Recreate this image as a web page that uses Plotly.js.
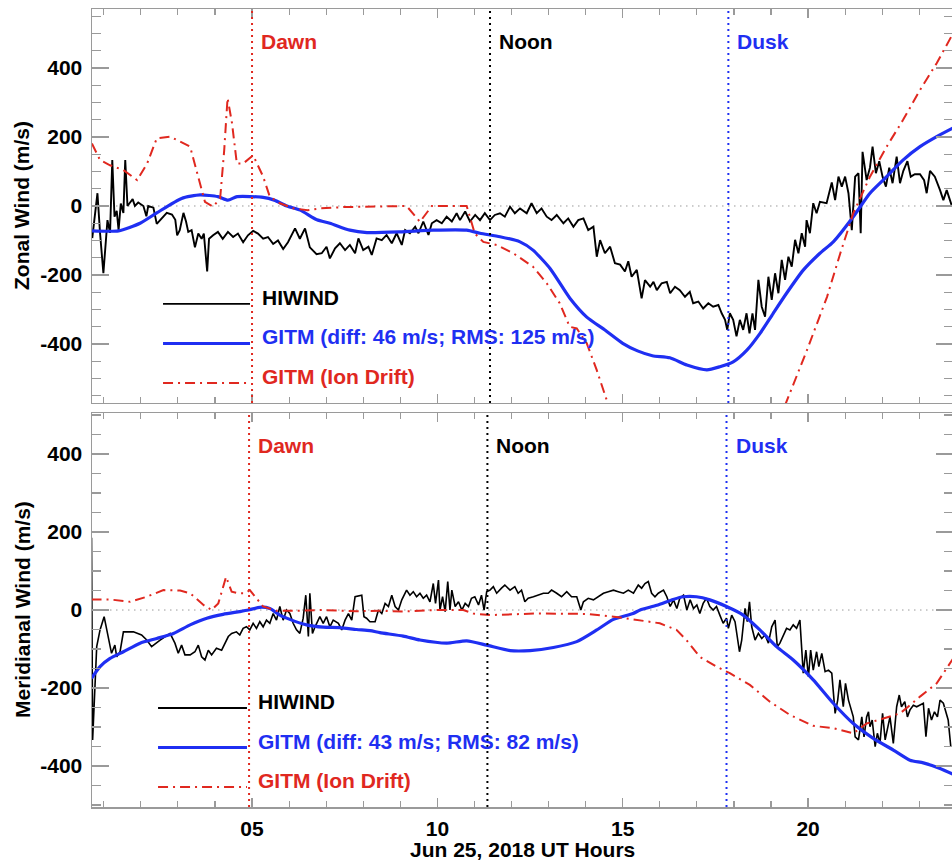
<!DOCTYPE html>
<html>
<head>
<meta charset="utf-8">
<script src="https://cdn.plot.ly/plotly-3.0.1.min.js"></script>
<style>
  html, body { margin: 0; padding: 0; background: #fff; overflow: hidden; }
  #chart { width: 954px; height: 860px; }
</style>
</head>
<body>
<div id="chart"></div>
<script>
// ---- Zonal wind (upper panel) ----
const zonalHiwindHours = [0.69,0.83,0.90,0.99,1.10,1.17,1.23,1.29,1.35,1.40,1.46,1.53,1.58,1.64,1.71,1.78,1.84,1.93,2.07,2.15,2.20,2.34,2.43,2.52,2.70,2.84,2.93,2.98,3.05,3.15,3.22,3.28,3.37,3.46,3.55,3.64,3.70,3.79,3.84,3.95,4.08,4.21,4.35,4.49,4.62,4.76,4.89,5.03,5.16,5.30,5.43,5.57,5.70,5.84,5.97,6.16,6.29,6.43,6.56,6.74,
  6.88,7.01,7.10,7.24,7.37,7.51,7.64,7.78,7.87,8.00,8.14,8.23,8.36,8.50,8.63,8.77,8.90,9.04,9.13,9.26,9.40,9.49,9.62,9.76,9.85,9.98,10.12,10.25,10.39,10.52,10.61,10.75,10.88,11.02,11.15,11.28,11.42,11.55,11.69,11.82,11.96,12.09,12.23,12.41,12.54,12.68,12.81,12.95,13.08,13.22,13.40,13.53,13.67,13.80,13.94,14.07,14.21,14.30,14.39,14.52,14.66,14.79,
  14.93,15.06,15.15,15.24,15.38,15.51,15.60,15.74,15.83,15.92,16.05,16.19,16.28,16.41,16.54,16.68,16.81,16.90,17.04,17.17,17.31,17.44,17.58,17.67,17.76,17.82,17.89,17.98,18.07,18.16,18.25,18.34,18.42,18.50,18.57,18.66,18.75,18.84,18.93,19.02,19.11,19.20,19.29,19.38,19.47,19.56,19.65,19.74,19.83,19.92,19.96,20.05,20.14,20.23,20.32,20.50,20.64,20.73,20.82,20.91,21.00,21.09,21.18,21.27,21.36,21.42,21.47,21.58,21.67,21.74,21.83,21.92,22.01,22.10,22.19,22.28,22.39,22.48,22.57,22.68,22.77,22.88,23.02,23.13,23.20,23.29,23.42,23.56,23.65,23.74,23.87];
const zonalHiwind = [-93,37,-78,-195,-41,-78,133,-31,-14,-70,7,-20,133,0,10,20,0,10,0,-30,0,-5,-52,-41,-20,-25,-40,-85,-70,-20,-45,-75,-70,-120,-80,-95,-80,-190,-95,-85,-75,-95,-75,-90,-80,-105,-85,-72,-80,-95,-90,-110,-100,-125,-105,-65,-95,-65,-120,-140,
  -137,-118,-152,-123,-108,-128,-113,-137,-94,-128,-118,-142,-94,-99,-84,-108,-79,-113,-70,-79,-60,-79,-45,-84,-50,-41,-50,-31,-45,-21,-41,-16,-45,-26,-41,-21,-41,-26,-21,-31,-2,-21,-7,-21,8,-21,-7,-31,-41,-26,-50,-36,-60,-41,-36,-70,-60,-147,-99,-137,-118,-166,
  -170,-190,-160,-205,-185,-268,-215,-234,-220,-244,-224,-220,-253,-234,-244,-263,-249,-282,-277,-297,-282,-292,-287,-311,-330,-359,-311,-330,-378,-330,-359,-311,-369,-311,-359,-214,-292,-321,-205,-272,-195,-253,-156,-214,-147,-176,-98,-137,-79,-118,-41,-79,8,-21,12,8,68,17,85,56,85,37,-70,85,95,-79,157,75,111,172,95,130,85,56,111,66,143,66,102,130,85,92,92,75,37,102,85,46,17,46,3];

const zonalGitmHours = [0.68,1.40,1.98,2.43,3.10,3.60,4.08,4.35,4.60,5.30,5.60,5.94,6.30,6.75,7.10,7.64,8.10,8.99,9.89,10.79,11.15,11.69,12.23,12.58,13.04,13.58,14.03,14.50,15.00,15.40,15.80,16.27,16.73,17.27,17.62,17.98,18.35,18.70,19.06,19.42,19.87,20.32,20.68,21.22,21.67,22.12,22.56,23.02,23.47,23.91];
const zonalGitm = [-72,-72,-50,-20,22,32,27,17,27,25,17,0,-12,-40,-50,-70,-77,-75,-70,-70,-79,-89,-104,-128,-181,-268,-322,-358,-398,-420,-434,-440,-461,-475,-466,-452,-418,-370,-311,-253,-186,-137,-104,-31,37,85,133,172,201,226];

const zonalIonHours = [0.68,0.90,1.17,1.53,1.90,2.17,2.43,2.79,3.33,3.55,3.73,3.95,4.14,4.25,4.34,4.46,4.59,4.76,5.03,5.30,5.48,5.75,6.12,6.50,6.85,7.50,8.50,9.17,9.53,9.85,10.79,11.01,11.24,11.60,12.05,12.58,12.95,13.30,13.57,13.76,14.03,14.30,14.57,14.75,19.30,19.40,19.97,20.51,20.87,21.22,21.67,22.12,22.56,23.02,23.47,23.91];
const zonalIon = [181,133,118,104,75,123,196,201,172,85,12,-2,22,162,313,240,123,123,147,85,27,8,-7,-12,-7,-3,-2,0,-46,0,0,-80,-104,-113,-137,-176,-224,-282,-350,-355,-398,-476,-563,-660,-640,-572,-418,-264,-137,-21,85,172,249,336,414,500];

// ---- Meridional wind (lower panel) ----
const meridHiwindHours = [0.67,0.70,0.81,0.90,1.01,1.12,1.21,1.30,1.35,1.44,1.53,1.80,2.02,2.16,2.29,2.52,2.79,2.92,3.01,3.10,3.19,3.33,3.46,3.55,3.64,3.73,3.82,3.91,4.04,4.18,4.27,4.36,4.45,4.58,4.67,4.76,4.85,4.94,5.03,5.12,5.21,5.30,5.39,5.48,5.57,5.66,5.75,5.84,5.93,6.02,6.11,6.20,6.29,6.38,6.45,6.52,6.56,6.63,6.70,6.83,6.92,7.01,7.10,7.19,7.33,7.42,7.51,7.60,7.69,7.78,7.96,8.02,8.09,8.18,
  8.32,8.41,8.50,8.59,8.68,8.77,8.86,8.95,9.04,9.17,9.26,9.35,9.44,9.53,9.62,9.71,9.80,9.89,9.95,10.03,10.07,10.14,10.21,10.28,10.34,10.39,10.48,10.57,10.66,10.75,10.84,10.92,11.01,11.11,11.19,11.26,11.33,11.42,11.51,11.60,11.73,11.82,11.96,12.09,12.18,12.27,12.36,12.45,12.59,12.72,12.86,12.99,13.08,13.22,13.35,13.49,13.62,13.76,13.87,13.94,14.07,14.21,14.34,14.48,14.61,14.75,14.88,15.02,15.15,15.29,15.42,15.51,15.60,15.69,15.78,15.87,15.96,
  16.10,16.19,16.28,16.37,16.46,16.54,16.64,16.73,16.82,16.91,17.00,17.08,17.17,17.26,17.35,17.44,17.53,17.62,17.71,17.80,17.85,17.94,18.03,18.15,18.21,18.30,18.36,18.42,18.48,18.57,18.66,18.75,18.84,18.93,19.02,19.11,19.17,19.24,19.33,19.42,19.51,19.60,19.69,19.78,19.87,19.94,20.01,20.07,20.14,20.23,20.29,20.37,20.46,20.55,20.64,20.73,20.80,20.86,20.95,21.01,21.09,21.18,21.22,21.27,21.36,21.45,21.51,21.58,21.63,21.67,21.73,21.81,21.87,21.94,22.01,22.08,22.15,22.21,22.30,22.39,22.46,22.52,22.61,22.68,22.75,22.84,22.93,23.02,23.11,23.18,23.25,23.33,23.41,23.49,23.56,23.65,23.72,23.78,23.85];
const meridHiwind = [185,-333,-94,-51,-17,-68,-111,-90,-120,-107,-56,-56,-64,-77,-94,-77,-60,-85,-111,-90,-115,-115,-107,-90,-120,-128,-103,-115,-98,-103,-85,-68,-60,-56,-64,-47,-43,-51,-34,-47,-30,-43,-26,-34,-9,-26,9,-26,0,-9,-34,-51,-60,-21,38,-68,43,-60,-43,-17,-34,-17,-43,-26,-34,-51,-26,-9,-26,34,38,-17,-21,-30,
  -30,0,-9,17,9,38,9,0,26,51,38,47,34,43,30,38,21,68,17,77,0,34,-4,73,0,51,9,21,0,17,9,30,34,13,38,0,47,51,60,43,56,64,51,60,43,51,21,30,34,38,43,43,51,43,34,47,34,34,0,21,30,26,34,43,47,51,47,43,51,43,64,56,68,73,43,34,43,
  51,34,9,26,4,30,38,0,26,4,13,-9,17,30,9,0,9,-13,-34,-21,-47,-13,-30,-107,-77,4,-30,21,-43,-77,-60,-73,-64,-85,-43,-26,-94,-85,-64,-47,-51,-38,-47,-26,-162,-103,-171,-103,-154,-107,-145,-111,-158,-154,-162,-265,-231,-179,-248,-188,-231,-265,-274,-325,-333,-274,-325,-274,-261,-299,-282,-350,-316,-342,-265,-333,-299,-274,-342,-248,-218,-248,-235,-274,-256,-244,-248,-244,-239,-325,-252,-282,-261,-274,-231,-239,-265,-282,-350];

const meridGitmHours = [0.67,0.90,1.17,1.53,1.98,2.43,2.88,3.33,3.78,4.22,4.67,4.90,5.21,5.48,5.75,6.02,6.47,6.92,7.37,7.82,8.18,8.45,9.08,9.53,10.25,10.79,11.33,11.96,12.50,13.13,13.76,14.30,14.75,15.28,15.47,15.92,16.36,16.63,16.99,17.35,17.80,18.25,18.70,19.15,19.60,20.14,20.68,21.22,21.76,22.30,22.75,23.11,23.56,23.91];
const meridGitm = [-175,-145,-124,-107,-85,-73,-60,-38,-21,-11,-4,0,7,4,-13,-24,-38,-44,-45,-50,-53,-58,-67,-77,-85,-79,-90,-104,-104,-96,-81,-51,-24,-9,0,12,27,34,34,26,9,-13,-51,-94,-128,-179,-239,-291,-329,-359,-385,-392,-406,-421];

const meridIonHours = [0.67,1.17,1.71,2.16,2.61,3.06,3.33,3.69,3.91,4.09,4.30,4.45,4.63,4.81,4.94,5.12,5.30,5.66,6.20,6.92,7.82,8.45,9.08,9.98,10.70,10.97,11.42,12.68,14.03,14.93,15.47,16.00,16.45,16.72,17.08,17.53,17.89,18.43,18.97,19.51,20.14,20.68,21.22,21.58,22.03,22.48,22.70,23.02,23.47,23.91];
const meridIon = [27,27,21,34,51,50,43,13,0,17,85,47,43,43,51,30,9,-2,-2,0,-3,-2,-4,0,0,-9,-13,-9,-10,-19,-26,-34,-51,-77,-120,-145,-162,-192,-235,-269,-297,-303,-316,-291,-278,-265,-248,-222,-188,-125];

// ---- Axes, markers and labels ----
const hourRange = [0.683, 23.91];
const hourTicks = [5, 10, 15, 20];
const hourTickText = ['05', '10', '15', '20'];
const zonalRange = [-571, 571];
const meridRange = [-505, 505];
const windTicks = [-400, -200, 0, 200, 400];
const windTickText = ['-400', '-200', '0', '200', '400'];
const eventNames = ['Dawn', 'Noon', 'Dusk'];
const eventHoursZonal = [5.0, 11.42, 17.85];
const eventHoursMerid = [4.92, 11.35, 17.80];
const legendNames = ['HIWIND', 'GITM (Ion Drift)'];
const zonalGitmName = 'GITM (diff: 46 m/s; RMS: 125 m/s)';
const meridGitmName = 'GITM (diff: 43 m/s; RMS: 82 m/s)';

const BLACK = '#000000';
const BLUE = '#1f2ff2';
const RED = '#e0281f';
const FRAME = '#9a9a9a';
const eventColors = [RED, BLACK, BLUE];
const FONT = { family: 'Liberation Sans, Arial, Helvetica, sans-serif', size: 21, weight: 700, color: '#000' };
const IONDASH = '10px,5px,2px,5px';

function font(color) { return Object.assign({}, FONT, { color: color }); }

const traces = [
  { x: zonalHiwindHours, y: zonalHiwind, xaxis: 'x', yaxis: 'y', mode: 'lines', line: { color: BLACK, width: 1.9 } },
  { x: zonalGitmHours, y: zonalGitm, xaxis: 'x', yaxis: 'y', mode: 'lines', line: { color: BLUE, width: 3.2, shape: 'spline', smoothing: 0.6 } },
  { x: zonalIonHours, y: zonalIon, xaxis: 'x', yaxis: 'y', mode: 'lines', line: { color: RED, width: 2, dash: IONDASH } },
  { x: meridHiwindHours, y: meridHiwind, xaxis: 'x2', yaxis: 'y2', mode: 'lines', line: { color: BLACK, width: 1.6 } },
  { x: meridGitmHours, y: meridGitm, xaxis: 'x2', yaxis: 'y2', mode: 'lines', line: { color: BLUE, width: 3.2, shape: 'spline', smoothing: 0.6 } },
  { x: meridIonHours, y: meridIon, xaxis: 'x2', yaxis: 'y2', mode: 'lines', line: { color: RED, width: 2, dash: IONDASH } }
];

function xAxis(anchor, showLabels) {
  return {
    anchor: anchor, domain: [0, 1], range: hourRange,
    tickmode: 'array', tickvals: hourTicks, ticktext: hourTickText,
    ticks: 'inside', ticklen: 9, tickwidth: 1.2, tickcolor: FRAME,
    minor: { dtick: 1, tick0: 0, ticks: 'inside', ticklen: 6, tickcolor: FRAME, tickwidth: 1.2 },
    showticklabels: showLabels, tickfont: FONT, ticklabelstandoff: 2,
    showline: true, linecolor: FRAME, linewidth: 1.5, mirror: 'ticks',
    showgrid: false, zeroline: false
  };
}
function yAxis(anchor, domain, range) {
  return {
    anchor: anchor, domain: domain, range: range,
    tickmode: 'array', tickvals: windTicks, ticktext: windTickText,
    ticks: 'inside', ticklen: 17, tickwidth: 1.2, tickcolor: FRAME,
    minor: { dtick: 50, tick0: 0, ticks: 'inside', ticklen: 9, tickcolor: FRAME, tickwidth: 1.2 },
    tickfont: FONT, ticklabelstandoff: 4,
    showline: true, linecolor: FRAME, linewidth: 1.5, mirror: 'ticks',
    showgrid: false, zeroline: false
  };
}

const shapes = [];
const annotations = [];

// dotted zero reference in each panel
[['x', 'y'], ['x2', 'y2']].forEach(([xa, ya]) => {
  shapes.push({ type: 'line', layer: 'below', xref: xa + ' domain', x0: 0, x1: 1, yref: ya, y0: 0, y1: 0,
    line: { color: '#9a9a9a', width: 1, dash: '1.5px,4.5px' } });
});

// Dawn / Noon / Dusk markers
[[eventHoursZonal, 'x', 'y'], [eventHoursMerid, 'x2', 'y2']].forEach(([hours, xa, ya]) => {
  hours.forEach((h, i) => {
    shapes.push({ type: 'line', layer: 'above', xref: xa, x0: h, x1: h, yref: ya + ' domain', y0: 0, y1: 1,
      line: { color: eventColors[i], width: 2, dash: '2px,4px' } });
    annotations.push({ xref: xa, x: h, xanchor: 'left', xshift: 7, yref: ya + ' domain', y: 0.918, yanchor: 'middle',
      text: eventNames[i], showarrow: false, font: font(eventColors[i]) });
  });
});

// in-panel legends
function legend(xa, ya, lineX0, lineX1, textX, gitmName) {
  const lineY = [0.2513, 0.1510, 0.0508];
  const textY = [0.2680, 0.1675, 0.0660];
  const styles = [
    { color: BLACK, width: 1.8 },
    { color: BLUE, width: 3.2 },
    { color: RED, width: 2, dash: IONDASH }
  ];
  const names = [legendNames[0], gitmName, legendNames[1]];
  const colors = [BLACK, BLUE, RED];
  for (let i = 0; i < 3; i++) {
    shapes.push({ type: 'line', xref: xa + ' domain', x0: lineX0, x1: lineX1, yref: ya + ' domain', y0: lineY[i], y1: lineY[i], line: styles[i] });
    annotations.push({ xref: xa + ' domain', x: textX, xanchor: 'left', yref: ya + ' domain', y: textY[i], yanchor: 'middle',
      text: names[i], showarrow: false, font: font(colors[i]) });
  }
}
legend('x', 'y', 0.0825, 0.1835, 0.1951, zonalGitmName);
legend('x2', 'y2', 0.0767, 0.1800, 0.1905, meridGitmName);

// axis titles
annotations.push({ xref: 'paper', x: -0.0813, xanchor: 'center', yref: 'y domain', y: 0.5, yanchor: 'middle',
  text: 'Zonal Wind (m/s)', textangle: -90, showarrow: false, font: FONT });
annotations.push({ xref: 'paper', x: -0.0813, xanchor: 'center', yref: 'y2 domain', y: 0.5, yanchor: 'middle',
  text: 'Meridianal Wind (m/s)', textangle: -90, showarrow: false, font: FONT });
annotations.push({ xref: 'paper', x: 0.5, xanchor: 'center', yref: 'paper', y: -0.0535, yanchor: 'middle',
  text: 'Jun 25, 2018 UT Hours', showarrow: false, font: FONT });

const layout = {
  width: 954, height: 860,
  margin: { l: 92, r: 1, t: 9, b: 53 },
  paper_bgcolor: '#fff', plot_bgcolor: '#fff',
  showlegend: false,
  font: FONT,
  xaxis: xAxis('y', false),
  yaxis: yAxis('x', [0.5063, 1], zonalRange),
  xaxis2: xAxis('y2', true),
  yaxis2: yAxis('x2', [0, 0.4937], meridRange),
  shapes: shapes,
  annotations: annotations
};

Plotly.newPlot('chart', traces, layout, { staticPlot: true, displayModeBar: false });
</script>
</body>
</html>
